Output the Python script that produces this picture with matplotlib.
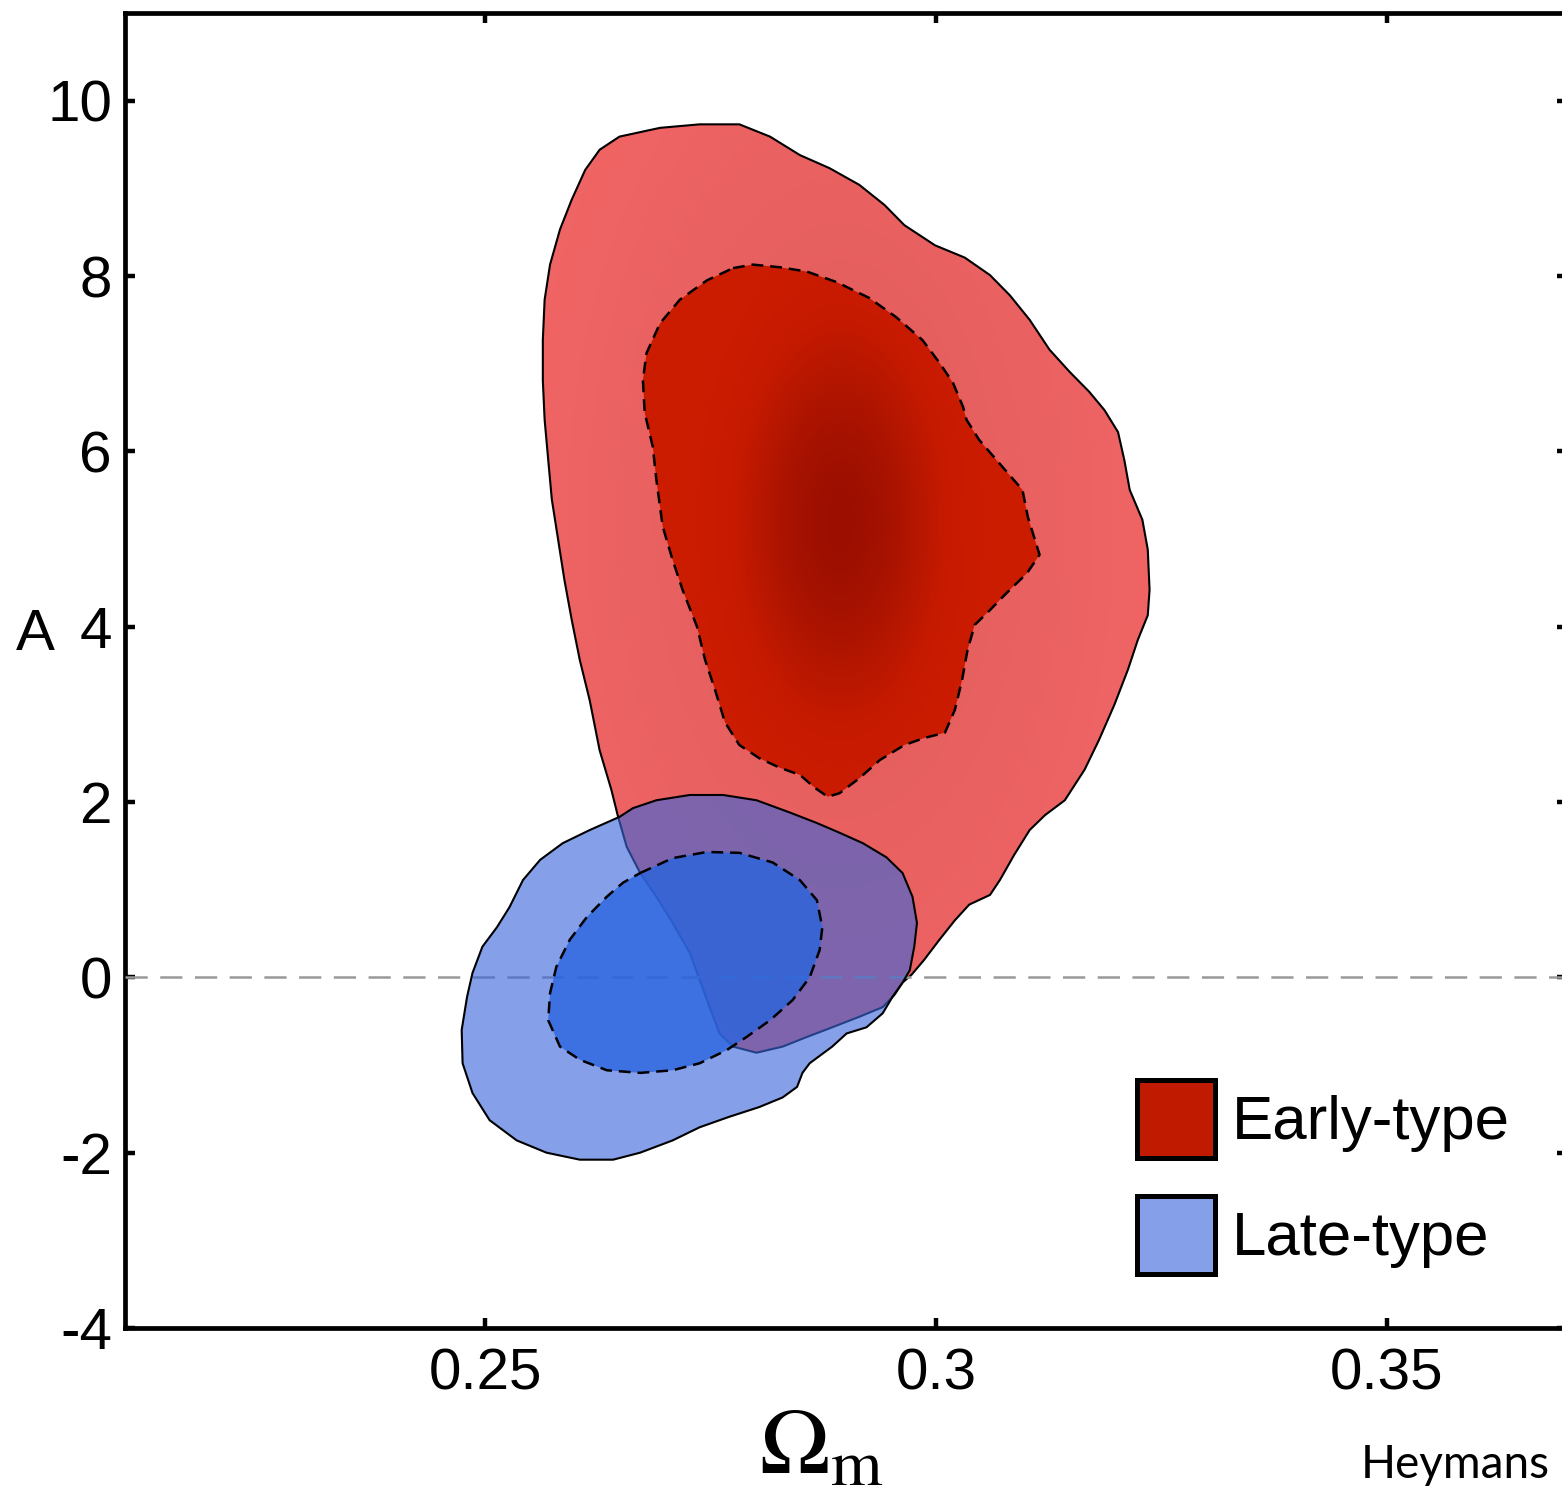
import numpy as np
import matplotlib
matplotlib.use("Agg")
import matplotlib.pyplot as plt
from matplotlib.patches import Polygon, Patch
from matplotlib.colors import LinearSegmentedColormap

plt.rcParams['font.family'] = ['Liberation Sans', 'DejaVu Sans']
plt.rcParams['mathtext.fontset'] = 'stix'
plt.rcParams['lines.scale_dashes'] = False

# ---------------- data (Omega_m, A) ----------------
early_outer = [(0.2627, 9.44), (0.2649, 9.59), (0.2694, 9.69), (0.2738, 9.73), (0.2782, 9.73),
               (0.2816, 9.59), (0.2849, 9.38), (0.2882, 9.23), (0.2915, 9.04), (0.2943, 8.81),
               (0.2965, 8.58), (0.2999, 8.35), (0.3032, 8.21), (0.3060, 8.01), (0.3082, 7.78),
               (0.3104, 7.50), (0.3126, 7.16), (0.3148, 6.91), (0.3170, 6.68), (0.3187, 6.47),
               (0.3202, 6.22), (0.3209, 5.90), (0.3215, 5.56), (0.3229, 5.22), (0.3235, 4.88),
               (0.3237, 4.42), (0.3235, 4.13), (0.3224, 3.85), (0.3213, 3.51), (0.3198, 3.11),
               (0.3181, 2.71), (0.3165, 2.37), (0.3143, 2.02), (0.3121, 1.85), (0.3104, 1.68),
               (0.3087, 1.40), (0.3071, 1.11), (0.3060, 0.94), (0.3037, 0.83), (0.3021, 0.65),
               (0.3004, 0.43), (0.2987, 0.20), (0.2973, 0.03), (0.2963, -0.06), (0.2954, -0.20),
               (0.2941, -0.34), (0.2915, -0.45), (0.2885, -0.57), (0.2857, -0.68), (0.2830, -0.79),
               (0.2801, -0.86), (0.2775, -0.79), (0.2760, -0.64), (0.2749, -0.34), (0.2738, -0.03),
               (0.2727, 0.28), (0.2708, 0.62), (0.2690, 0.92), (0.2672, 1.19), (0.2657, 1.49),
               (0.2647, 1.85), (0.2640, 2.14), (0.2627, 2.59), (0.2616, 3.16), (0.2605, 3.62),
               (0.2596, 4.08), (0.2588, 4.53), (0.2581, 4.99), (0.2574, 5.45), (0.2570, 5.90),
               (0.2566, 6.36), (0.2564, 6.81), (0.2564, 7.27), (0.2566, 7.73), (0.2572, 8.13),
               (0.2583, 8.53), (0.2596, 8.87), (0.2611, 9.21)]

early_inner = [(0.2775, 8.09), (0.2797, 8.13), (0.2827, 8.10), (0.2857, 8.05), (0.2890, 7.93),
               (0.2926, 7.75), (0.2956, 7.53), (0.2985, 7.27), (0.3004, 7.01), (0.3019, 6.78),
               (0.3030, 6.51), (0.3034, 6.36), (0.3048, 6.13), (0.3074, 5.82), (0.3096, 5.56),
               (0.3102, 5.25), (0.3115, 4.82), (0.3101, 4.61), (0.3078, 4.38), (0.3060, 4.19),
               (0.3043, 4.02), (0.3035, 3.73), (0.3029, 3.39), (0.3021, 3.05), (0.3010, 2.79),
               (0.2987, 2.73), (0.2965, 2.65), (0.2938, 2.48), (0.2915, 2.27), (0.2893, 2.10),
               (0.2880, 2.06), (0.2866, 2.16), (0.2849, 2.31), (0.2827, 2.39), (0.2804, 2.50),
               (0.2782, 2.65), (0.2766, 2.91), (0.2755, 3.28), (0.2744, 3.62), (0.2735, 4.00),
               (0.2719, 4.42), (0.2708, 4.76), (0.2697, 5.14), (0.2690, 5.67), (0.2686, 6.05),
               (0.2677, 6.44), (0.2675, 6.81), (0.2679, 7.12), (0.2694, 7.46), (0.2716, 7.73),
               (0.2746, 7.95)]

late_outer = [(0.2690, 2.02), (0.2727, 2.08), (0.2764, 2.08), (0.2801, 2.02), (0.2838, 1.88),
              (0.2868, 1.76), (0.2893, 1.65), (0.2919, 1.53), (0.2945, 1.37), (0.2963, 1.19),
              (0.2974, 0.92), (0.2979, 0.62), (0.2976, 0.35), (0.2971, 0.08), (0.2963, -0.06),
              (0.2952, -0.22), (0.2941, -0.41), (0.2923, -0.57), (0.2901, -0.64), (0.2885, -0.79),
              (0.2860, -0.98), (0.2852, -1.09), (0.2846, -1.25), (0.2830, -1.37), (0.2804, -1.48),
              (0.2771, -1.59), (0.2738, -1.71), (0.2708, -1.86), (0.2672, -2.00), (0.2642, -2.08),
              (0.2605, -2.08), (0.2568, -2.00), (0.2535, -1.86), (0.2505, -1.63), (0.2486, -1.32),
              (0.2475, -0.98), (0.2474, -0.60), (0.2480, -0.22), (0.2486, 0.05), (0.2497, 0.35),
              (0.2513, 0.57), (0.2527, 0.80), (0.2542, 1.11), (0.2561, 1.34), (0.2586, 1.53),
              (0.2616, 1.68), (0.2649, 1.83), (0.2664, 1.93)]

late_inner = [(0.2672, 1.19), (0.2708, 1.36), (0.2746, 1.43), (0.2782, 1.42), (0.2819, 1.31),
              (0.2849, 1.11), (0.2868, 0.88), (0.2874, 0.57), (0.2871, 0.31), (0.2860, 0.00),
              (0.2841, -0.26), (0.2816, -0.49), (0.2790, -0.68), (0.2768, -0.83), (0.2738, -0.98),
              (0.2708, -1.06), (0.2672, -1.09), (0.2635, -1.06), (0.2605, -0.94), (0.2583, -0.79),
              (0.2570, -0.49), (0.2572, -0.18), (0.2579, 0.12), (0.2594, 0.43), (0.2613, 0.69),
              (0.2635, 0.92), (0.2653, 1.08)]

early_peak = (0.2893, 5.2)          # darkest point of the early-type posterior
series_labels = ['Early-type', 'Late-type']
x_ticks = [0.25, 0.3, 0.35]
x_ticklabels = ['0.25', '0.3', '0.35']
y_ticks = [-4, -2, 0, 2, 4, 6, 8, 10]
y_ticklabels = ['-4', '-2', '0', '2', '4', '6', '8', '10']
x_range = (0.21, 0.37)
y_range = (-4, 11)
reference_A = 0

# ---------------- figure ----------------
W, H = 1562, 1497
fig = plt.figure(figsize=(W / 100, H / 100), dpi=100)
ax = fig.add_axes([124.5 / W, 169 / H, 1442.5 / W, 1315 / H])
ax.set_xlim(*x_range)
ax.set_ylim(*y_range)

# shading field for early-type posterior (cosmetic gradient)
gx = np.linspace(x_range[0], x_range[1], 500)
gy = np.linspace(y_range[0], y_range[1], 500)
GX, GY = np.meshgrid(gx, gy)
field_in = np.exp(-0.5 * (((GX - early_peak[0]) / 0.0095) ** 2 + ((GY - early_peak[1]) / 1.9) ** 2))
field_out = np.exp(-0.5 * (((GX - early_peak[0]) / 0.022) ** 2 + ((GY - early_peak[1]) / 4.2) ** 2))

cmap_out = LinearSegmentedColormap.from_list('rout', ['#f46666', '#e35e5e'])
cmap_in = LinearSegmentedColormap.from_list('rin', ['#cc1c00', '#c61a00', '#b01500', '#9c0f00'])

# early-type outer (95%)
p_eo = Polygon(early_outer, closed=True, transform=ax.transData, facecolor='none', edgecolor='none')
ax.add_patch(p_eo)
im1 = ax.imshow(field_out, extent=[*x_range, *y_range], origin='lower', aspect='auto',
                cmap=cmap_out, vmin=0.05, vmax=1.0, interpolation='bilinear', zorder=1)
im1.set_clip_path(p_eo)
ax.add_patch(Polygon(early_outer, closed=True, fill=False, edgecolor='black', lw=1.5,
                     joinstyle='round', zorder=2))

# early-type inner (68%)
p_ei = Polygon(early_inner, closed=True, transform=ax.transData, facecolor='none', edgecolor='none')
ax.add_patch(p_ei)
im2 = ax.imshow(field_in, extent=[*x_range, *y_range], origin='lower', aspect='auto',
                cmap=cmap_in, vmin=0.2, vmax=1.0, interpolation='bilinear', zorder=3)
im2.set_clip_path(p_ei)
ax.add_patch(Polygon(early_inner, closed=True, fill=False, edgecolor='black', lw=1.8,
                     linestyle=(0, (8.5, 5)), joinstyle='round', zorder=4))

ax.set_xlim(*x_range)
ax.set_ylim(*y_range)

# zero line
ax.axhline(reference_A, color='#999999', lw=1.8, linestyle=(0, (16, 9)), zorder=5)

# late-type outer and inner
ax.add_patch(Polygon(late_outer, closed=True, facecolor=(58 / 255, 102 / 255, 218 / 255, 0.62),
                     edgecolor='none', zorder=6))
ax.add_patch(Polygon(late_outer, closed=True, fill=False, edgecolor='black', lw=1.5,
                     joinstyle='round', zorder=7))
ax.add_patch(Polygon(late_inner, closed=True, facecolor=(43 / 255, 100 / 255, 222 / 255, 0.8),
                     edgecolor='none', zorder=8))
ax.add_patch(Polygon(late_inner, closed=True, fill=False, edgecolor='black', lw=1.8,
                     linestyle=(0, (8.5, 5)), joinstyle='round', zorder=9))

# axes styling
for s in ax.spines.values():
    s.set_linewidth(3.4)
ax.spines['right'].set_linewidth(0.8)
ax.spines['right'].set_color('#cccccc')
ax.set_xticks(x_ticks)
ax.set_xticklabels(x_ticklabels)
ax.set_yticks(y_ticks)
ax.set_yticklabels(y_ticklabels)
ax.tick_params(direction='in', top=True, right=True, length=7, width=3.2,
               labelsize=42, pad=9, color='black')
ax.tick_params(axis='x', pad=14)

ax.set_ylabel('A', fontsize=42, rotation=0, ha='center', va='center')
ax.yaxis.set_label_coords(-0.062, 0.527)
ax.set_xlabel(r'$\Omega_{\mathrm{m}}$', fontsize=68, va='baseline')
ax.xaxis.set_label_coords(0.483, -0.11)

handles = [Patch(facecolor='#c01a00', edgecolor='black', linewidth=3.6, label=series_labels[0]),
           Patch(facecolor='#85a0e8', edgecolor='black', linewidth=3.6, label=series_labels[1])]
ax.legend(handles=handles, loc='upper left', bbox_to_anchor=(1137 / W, 1 - 1080 / H),
          bbox_transform=fig.transFigure, frameon=False, fontsize=44.5,
          handlelength=1.26, handleheight=1.57, handletextpad=0.27, labelspacing=0.61,
          borderpad=0, borderaxespad=0)

fig.text(1550 / W, 1 - 1478 / H, 'Heymans', ha='right', va='baseline', fontsize=33,
         family=['Lato', 'DejaVu Sans'])

fig.savefig('out.png', dpi=100)
